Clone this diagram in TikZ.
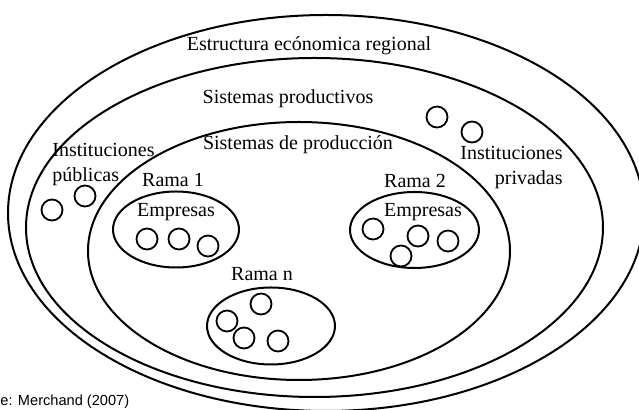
\documentclass[tikz,border=0pt]{standalone}
\usepackage{fontspec}
\setmainfont{Liberation Serif}
\newfontfamily\srcfont{Liberation Sans}
\begin{document}
\begin{tikzpicture}[x=0.5pt,y=-0.5pt,
    rim/.style={line width=1pt},
    firm/.style={draw,circle,line width=0.9pt,minimum size=10.5pt,inner sep=0pt},
    lbl/.style={inner sep=0pt,font=\fontsize{10}{12.5}\selectfont}]
  \useasboundingbox (0,0) rectangle (639,410);
  \draw[rim] (326,213) ellipse [x radius=318,y radius=198];
  \draw[rim] (314.5,227.5) ellipse [x radius=288.5,y radius=169.5];
  \draw[rim] (299,251) ellipse [x radius=211,y radius=129];
  \draw[rim] (176,229.5) ellipse [x radius=63,y radius=38];
  \draw[rim] (414.5,230) ellipse [x radius=64.5,y radius=38];
  \draw[rim] (271,326) ellipse [x radius=64,y radius=38.5];
  \draw
    (309,46) node[lbl] (estructura){Estructura ecónomica regional}
    (288,99) node[lbl] (productivos){Sistemas productivos}
    (298,145) node[lbl] (produccion){Sistemas de producción}
    (52,165) node[lbl,anchor=west,align=left] (publicas){Instituciones\\públicas}
    (563,168) node[lbl,anchor=east,align=right] (privadas){Instituciones\\privadas}
    (173,180) node[lbl] (rama1){Rama 1}
    (176,212) node[lbl] (empresas1){Empresas}
    (415,181) node[lbl] (rama2){Rama 2}
    (423,212) node[lbl] (empresas2){Empresas}
    (262,274) node[lbl] (raman){Rama n};
  \begin{scope}
    \node[firm] (pu1) at (52,210) {};
    \node[firm] (pu2) at (85,196) {};
    \node[firm] (pr1) at (437,117) {};
    \node[firm] (pr2) at (472,132) {};
    \node[firm] (a1) at (147,239) {};
    \node[firm] (a2) at (179,239) {};
    \node[firm] (a3) at (208,246) {};
    \node[firm] (b1) at (373,229) {};
    \node[firm] (b2) at (418,236) {};
    \node[firm] (b3) at (448,241) {};
    \node[firm] (b4) at (401,256) {};
    \node[firm] (n1) at (261,304) {};
    \node[firm] (n2) at (227,321) {};
    \node[firm] (n3) at (244,338) {};
    \node[firm] (n4) at (278,341) {};
  \end{scope}
  \node[inner sep=0pt,anchor=west,font=\srcfont\fontsize{7.3}{9}\selectfont] (fuente) at (0,402) {e: Merchand (2007)};
\end{tikzpicture}
\end{document}
